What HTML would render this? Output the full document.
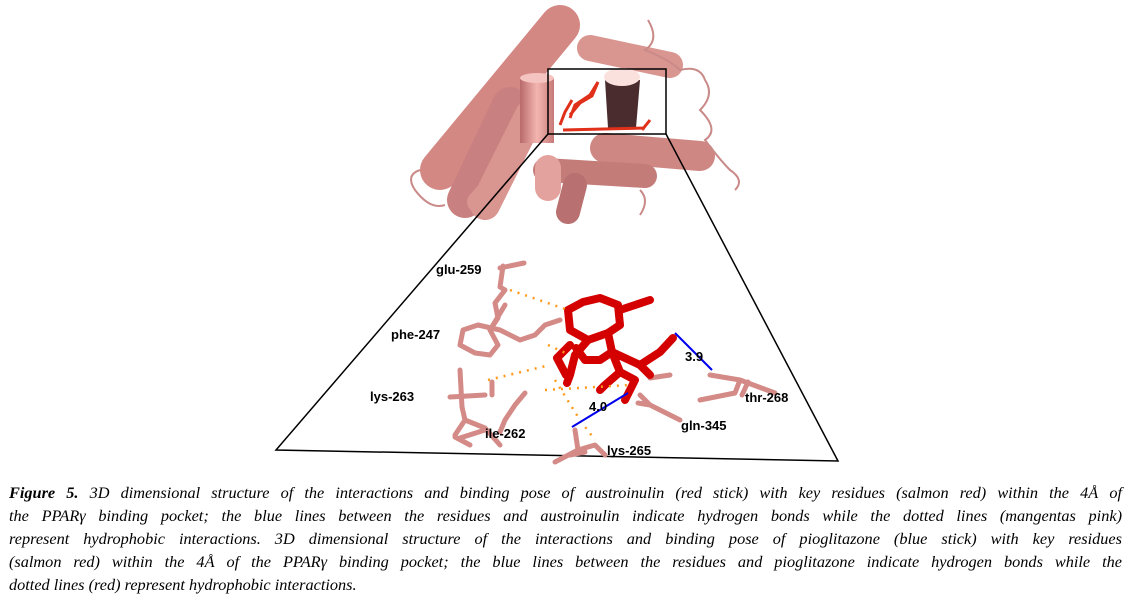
<!DOCTYPE html>
<html><head><meta charset="utf-8"><style>
body{margin:0;width:1132px;height:601px;background:#fff;overflow:hidden;position:relative}
.cap{position:absolute;left:9px;width:1113px;font-family:"Liberation Serif",serif;font-style:italic;font-size:16.3px;line-height:23px;color:#000}
.cap div{text-align:justify;text-align-last:justify;white-space:nowrap;height:23px}
.cap div.l{text-align-last:left}
svg text{font-family:"Liberation Sans",sans-serif;font-weight:bold;font-size:13px}
</style></head><body>
<svg width="1132" height="470" style="position:absolute;left:0;top:0">
<defs>
<linearGradient id="cy" x1="0" x2="1" y1="0" y2="0"><stop offset="0" stop-color="#b86a6a"/><stop offset=".5" stop-color="#f3b5b0"/><stop offset="1" stop-color="#c77a78"/></linearGradient>
</defs>
<g stroke-linecap="round" fill="none">
<path d="M560 25 L440 170" stroke="#d48884" stroke-width="40"/>
<path d="M510 105 L465 200" stroke="#c98080" stroke-width="36"/>
<path d="M530 115 L485 205" stroke="#d99590" stroke-width="30"/>
<path d="M590 48 L670 65" stroke="#d99590" stroke-width="26"/>
<path d="M605 148 L700 156" stroke="#cf8783" stroke-width="30"/>
<path d="M545 170 L645 176" stroke="#c47c79" stroke-width="24"/>
<path d="M575 185 L568 212" stroke="#b87170" stroke-width="24"/>
<path d="M548 168 L548 188" stroke="#e3a29e" stroke-width="26"/>
<path d="M505 172 L478 202" stroke="#d99590" stroke-width="22"/>
</g>
<rect x="520" y="78" width="34" height="65" fill="url(#cy)"/>
<ellipse cx="537" cy="78" rx="17" ry="5" fill="#f5c4c0"/>
<path d="M605 80 L640 80 L636 128 L608 128 Z" fill="#4a2c2e"/>
<ellipse cx="622" cy="77" rx="18" ry="9" fill="#fbe1de"/>
<g stroke="#e0301a" stroke-width="3" fill="none">
<path d="M563 130 L645 128 M650 120 L642 130 M570 118 L575 105 L590 95 L598 82 L592 96 L580 103 L570 115"/>
<path d="M560 125 L565 112 L572 100"/>
</g>
<g stroke="#c98a88" stroke-width="2" fill="none">
<path d="M648 20 Q660 40 645 50 Q670 60 680 70 Q700 65 705 80 Q715 95 700 110 Q720 130 705 140 Q720 160 730 170 Q745 180 735 190"/>
<path d="M420 170 Q405 175 415 190 Q430 210 445 205"/>
<path d="M640 190 Q650 200 640 215"/>
</g>
<rect x="548" y="69" width="118" height="65" fill="none" stroke="#000" stroke-width="1.5"/>
<path d="M548 134 L276 450 L838 461 L666 134" fill="none" stroke="#000" stroke-width="1.5"/>
<g stroke="#d48b87" stroke-width="5" stroke-linecap="round" stroke-linejoin="round" fill="none">
<path d="M500 268 L524 263 M503 266 L500 287 L505 290 L495 303 L498 318 L490 330 L498 345 L490 355 L475 353 L460 345 L463 330 L478 325 L500 330 L520 340 L535 335 L545 325 L560 320"/>
<path d="M490 330 L505 305"/>
<path d="M450 397 L485 395 M460 370 L462 407 L465 420 L485 428 L500 445 M465 420 L455 435 M492 382 L492 395"/>
<path d="M460 438 L485 430 M525 393 L515 405 L505 420 L500 432 M470 445 L455 437"/>
<path d="M575 430 L578 450 L595 445 L605 455 M578 450 L555 462 M570 455 L585 452"/>
<path d="M640 395 L650 405 L660 410 L680 420 M650 378 L670 375 M650 405 L638 403"/>
<path d="M710 375 L740 380 L775 393 M740 380 L735 393 L700 400 M748 382 L742 395"/>
</g>
<g stroke="#d40000" stroke-width="8" stroke-linejoin="round" stroke-linecap="round" fill="none">
<path d="M568 310 L570 330 L588 340 L608 333 L620 325 L618 305 L600 298 L583 302 Z"/>
<path d="M620 310 L650 300 M608 333 L612 352 L640 365 L650 375 M612 352 L600 360 L585 360 L576 348 M588 340 L575 355 L570 375 L567 383 M570 345 L557 358 L566 375 M640 365 L660 352 L673 338 M612 352 L620 372 L605 385 L600 390 M620 372 L635 380 L625 400"/>
</g>
<g stroke="#ff9a1a" stroke-width="2.5" stroke-dasharray="2 6" fill="none">
<path d="M510 290 L568 310"/>
<path d="M488 380 L550 365"/>
<path d="M545 390 L630 385"/>
<path d="M555 380 L580 420 L595 440"/>
<path d="M548 345 L570 355"/>
</g>
<g stroke="#0000ee" stroke-width="2" fill="none">
<path d="M675 333 L712 370"/>
<path d="M628 393 L572 427"/>
</g>
<text x="436" y="274">glu-259</text>
<text x="391" y="339">phe-247</text>
<text x="370" y="401">lys-263</text>
<text x="485" y="438">ile-262</text>
<text x="607" y="455">lys-265</text>
<text x="681" y="430">gln-345</text>
<text x="745" y="402">thr-268</text>
<text x="685" y="361">3.9</text>
<text x="589" y="411">4.0</text>
</svg>
<div class="cap" style="top:481px">
<div><b>Figure 5.</b> 3D dimensional structure of the interactions and binding pose of austroinulin (red stick) with key residues (salmon red) within the 4Å of</div>
<div>the PPARγ binding pocket; the blue lines between the residues and austroinulin indicate hydrogen bonds while the dotted lines (mangentas pink)</div>
<div>represent hydrophobic interactions. 3D dimensional structure of the interactions and binding pose of pioglitazone (blue stick) with key residues</div>
<div>(salmon red) within the 4Å of the PPARγ binding pocket; the blue lines between the residues and pioglitazone indicate hydrogen bonds while the</div>
<div class="l">dotted lines (red) represent hydrophobic interactions.</div>
</div>
</body></html>
